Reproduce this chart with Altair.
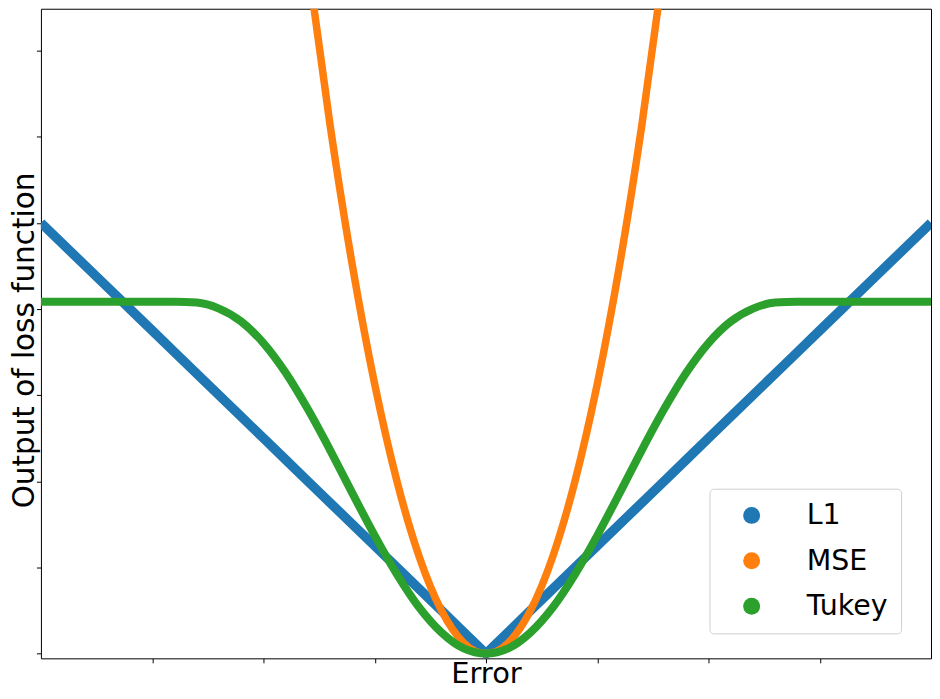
import altair as alt
import pandas as pd

# ---- data ----
series_names = ["L1", "MSE", "Tukey"]
series_colors = ["#1f77b4", "#ff7f0e", "#2ca02c"]

x_err = [-10, -9.5, -9, -8.5, -8, -7.5, -7, -6.5, -6, -5.5, -5, -4.5, -4, -3.5, -3, -2.5,
         -2, -1.5, -1, -0.5, 0, 0.5, 1, 1.5, 2, 2.5, 3, 3.5, 4, 4.5, 5, 5.5, 6, 6.5,
         7, 7.5, 8, 8.5, 9, 9.5, 10]

l1_vals = [10, 9.5, 9, 8.5, 8, 7.5, 7, 6.5, 6, 5.5, 5, 4.5, 4, 3.5, 3, 2.5,
           2, 1.5, 1, 0.5, 0, 0.5, 1, 1.5, 2, 2.5, 3, 3.5, 4, 4.5, 5, 5.5, 6, 6.5,
           7, 7.5, 8, 8.5, 9, 9.5, 10]

tukey_vals = [8.17, 8.17, 8.17, 8.17, 8.17, 8.17, 8.17, 8.15, 8.01, 7.71, 7.21, 6.52,
              5.67, 4.72, 3.72, 2.74, 1.84, 1.07, 0.49, 0.12, 0, 0.12, 0.49, 1.07,
              1.84, 2.74, 3.72, 4.72, 5.67, 6.52, 7.21, 7.71, 8.01, 8.15, 8.17, 8.17,
              8.17, 8.17, 8.17, 8.17, 8.17]

mse_x = [-4.5, -4, -3.5, -3, -2.5, -2, -1.5, -1, -0.5, 0, 0.5, 1, 1.5, 2, 2.5, 3, 3.5, 4, 4.5]
mse_vals = [20.25, 16, 12.25, 9, 6.25, 4, 2.25, 1, 0.25, 0, 0.25, 1, 2.25, 4, 6.25, 9,
            12.25, 16, 20.25]

x_ticks = [-7.5, -5, -2.5, 0, 2.5, 5, 7.5]
y_ticks = [0, 2, 4, 6, 8, 10, 12, 14]

df_l1 = pd.DataFrame({"x": x_err, "y": l1_vals, "series": "L1"})
df_mse = pd.DataFrame({"x": mse_x, "y": mse_vals, "series": "MSE"})
df_tukey = pd.DataFrame({"x": x_err, "y": tukey_vals, "series": "Tukey"})
df_all = pd.concat([df_l1, df_mse, df_tukey], ignore_index=True)

FONT = "DejaVu Sans"

x_enc = alt.X(
    "x:Q",
    scale=alt.Scale(domain=[-10, 10], nice=False, zero=False),
    axis=alt.Axis(
        values=x_ticks, labels=False, grid=False, domain=False,
        tickSize=4.5, tickColor="black", tickWidth=1,
        title="Error", titleFontSize=29, titleFont=FONT, titleFontWeight="normal",
        titleColor="black", titleBaseline="alphabetic", titleY=24,
    ),
)
y_enc = alt.Y(
    "y:Q",
    scale=alt.Scale(domain=[-0.11, 14.97], nice=False, zero=False),
    axis=alt.Axis(
        values=y_ticks, labels=False, grid=False, domain=False,
        tickSize=4.5, tickColor="black", tickWidth=1,
        title="Output of loss function", titleFontSize=29.5, titleFont=FONT,
        titleFontWeight="normal", titleColor="black",
        titleBaseline="alphabetic", titleAngle=270, titleX=-7.5, titleY=332,
        titleAlign="center",
    ),
)
color_enc = alt.Color(
    "series:N",
    scale=alt.Scale(domain=series_names, range=series_colors),
    title=None,
    legend=alt.Legend(
        orient="none", legendX=670, legendY=481,
        symbolType="circle", symbolSize=289, symbolOffset=15.5,
        symbolStrokeWidth=0, symbolOpacity=1,
        labelFontSize=28.5, labelFont=FONT, labelColor="black", labelOffset=41,
        rowPadding=16.5, padding=12.5, strokeColor="#d0d0d0", cornerRadius=4,
        fillColor="white",
    ),
)

# invisible filled points: only give the legend its filled dots
legend_pts = alt.Chart(df_all).mark_point(filled=True, opacity=0, size=1, clip=True).encode(
    x=x_enc, y=y_enc, color=color_enc
)
l1 = alt.Chart(df_l1).mark_line(strokeWidth=9.5, clip=True, interpolate="linear").encode(
    x=x_enc, y=y_enc, color=color_enc
)
mse = alt.Chart(df_mse).mark_line(strokeWidth=7.5, clip=True, interpolate="monotone").encode(
    x=x_enc, y=y_enc, color=color_enc
)
tukey = alt.Chart(df_tukey).mark_line(strokeWidth=8, clip=True, interpolate="monotone").encode(
    x=x_enc, y=y_enc, color=color_enc
)

chart = (
    alt.layer(legend_pts, l1, mse, tukey)
    .properties(
        width=892, height=651,
        autosize=alt.AutoSizeParams(type="none"),
        padding={"left": 33, "top": 0, "right": 1, "bottom": 31},
    )
    .configure(font=FONT)
    .configure_view(stroke="black", strokeWidth=1)
)

chart.save("out.html", embed_options={"renderer": "svg", "actions": False})
